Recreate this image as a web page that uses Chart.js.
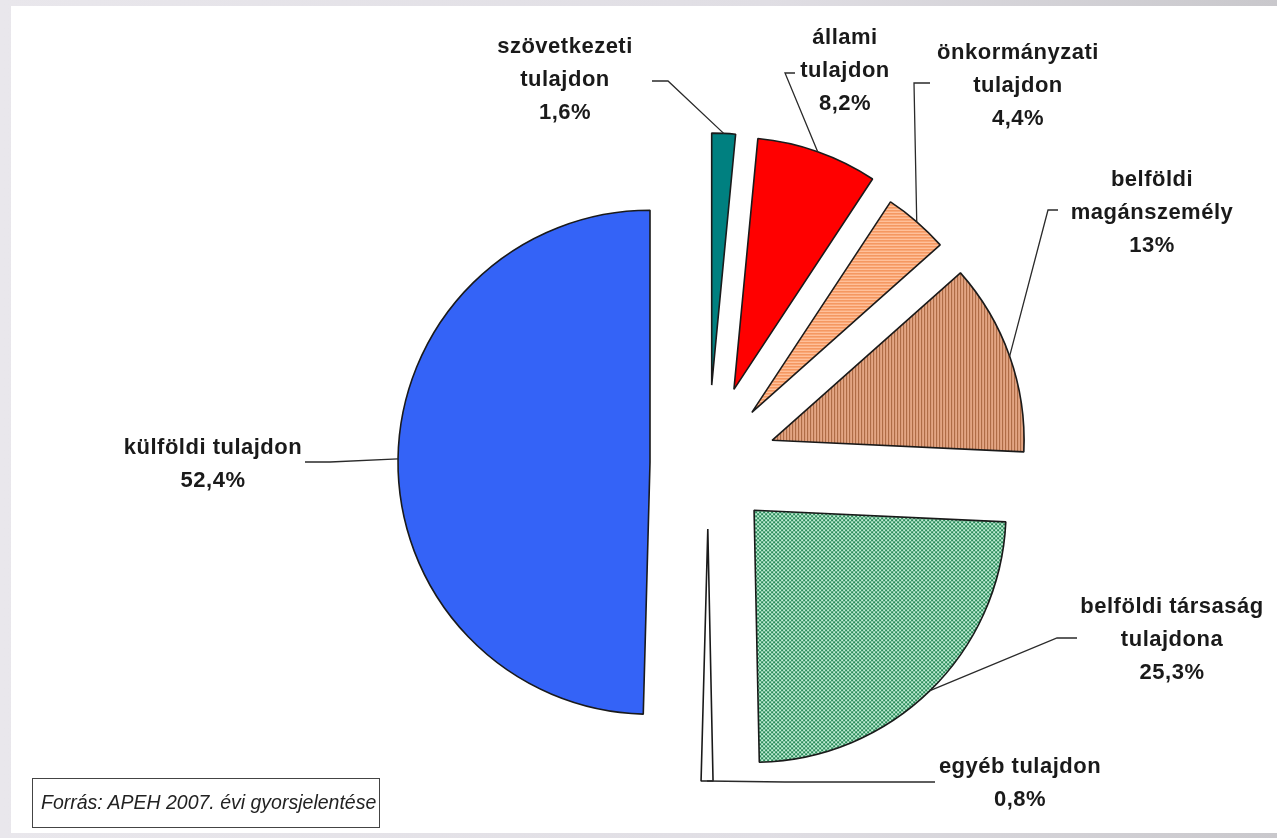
<!DOCTYPE html>
<html>
<head>
<meta charset="utf-8">
<script src="https://cdn.jsdelivr.net/npm/chart.js@4/dist/chart.umd.min.js"></script>
<style>
  html, body { margin: 0; padding: 0; }
  body {
    width: 1277px; height: 838px; overflow: hidden; position: relative;
    background: linear-gradient(90deg, #e9e7ec, #e0dee4 60%, #c9c8cc);
  }
  #lap { position: absolute; left: 11px; top: 6px; width: 1266px; height: 827px; background: #fff; }
  #forras {
    position: absolute; left: 21px; top: 772px; width: 348px; height: 50px;
    box-sizing: border-box; border: 1.5px solid #444; padding-left: 8px;
    font: italic 19.5px "Liberation Sans", Arial, sans-serif; color: #222; line-height: 47px;
  }
</style>
</head>
<body>
<div id="lap">
  <canvas id="kor" width="1266" height="827"></canvas>
  <div id="forras">Forrás: APEH 2007. évi gyorsjelentése</div>
</div>
<script>
// tulajdonosi megoszlás (%)
const kategoriak = [
  ['szövetkezeti', 'tulajdon'],
  ['állami', 'tulajdon'],
  ['önkormányzati', 'tulajdon'],
  ['belföldi', 'magánszemély'],
  ['belföldi társaság', 'tulajdona'],
  ['egyéb tulajdon'],
  ['külföldi tulajdon']
];
const aranyok = [1.6, 8.2, 4.4, 13, 25.3, 0.8, 52.4];

// kiemelés (px) es a feliratok helye a kör középpontjához képest
const kiemeles = [78, 78, 67, 68, 66, 66, 58];
const feliratok = [
  { x: -143, y: -416 }, { x: 137, y: -425 }, { x: 310, y: -410 },
  { x: 444, y: -283 }, { x: 464, y: 144 }, { x: 312, y: 304 }, { x: -495, y: -15 }
];
// vezetővonal vízszintes szakasza: [x1, x2, y]
const vezetok = [
  [-56, -40, -382], [87, 77, -390], [222, 206, -380],
  [350, 340, -253], [369, 349, 175], [227, 77, 319], [-403, -378, -1]
];

function minta(w, h, rajzol) {
  const c = document.createElement('canvas');
  c.width = w; c.height = h;
  const g = c.getContext('2d');
  rajzol(g);
  return g.createPattern(c, 'repeat');
}
const narancsCsik = minta(3, 3, g => {
  g.fillStyle = '#ffc09a'; g.fillRect(0, 0, 3, 3);
  g.fillStyle = '#f08040'; g.fillRect(0, 0, 3, 1);
});
const barnaCsik = minta(3, 3, g => {
  g.fillStyle = '#e3a583'; g.fillRect(0, 0, 3, 3);
  g.fillStyle = '#a8643e'; g.fillRect(0, 0, 1, 3);
});
const zoldKocka = minta(4, 4, g => {
  g.fillStyle = '#c2eed6'; g.fillRect(0, 0, 4, 4);
  g.fillStyle = '#288a58'; g.fillRect(0, 0, 2, 2); g.fillRect(2, 2, 2, 2);
});
const szinek = ['#008080', '#ff0000', narancsCsik, barnaCsik, zoldKocka, '#ffffff', '#3463f7'];

const szazalek = v => String(v).replace('.', ',') + '%';

const robbantott = {
  id: 'robbantott',
  beforeDatasetDraw(chart, args) {
    const ctx = chart.ctx;
    args.meta.data.forEach((arc, i) => {
      const fel = (arc.startAngle + arc.endAngle) / 2;
      ctx.save();
      ctx.translate(Math.cos(fel) * kiemeles[i], Math.sin(fel) * kiemeles[i]);
      arc.draw(ctx);
      ctx.restore();
    });
    return false;
  },
  afterDatasetsDraw(chart) {
    const ctx = chart.ctx;
    const meta = chart.getDatasetMeta(0);
    ctx.save();
    ctx.strokeStyle = '#2a2a2a';
    ctx.lineWidth = 1.3;
    ctx.fillStyle = '#1a1a1a';
    ctx.font = 'bold 22px "Liberation Sans", Arial, sans-serif';
    ctx.letterSpacing = '0.5px';
    ctx.textAlign = 'center';
    ctx.textBaseline = 'middle';
    meta.data.forEach((arc, i) => {
      const cx = arc.x, cy = arc.y;
      const fel = (arc.startAngle + arc.endAngle) / 2;
      const r = arc.outerRadius + kiemeles[i];
      const [x1, x2, ly] = vezetok[i];
      ctx.beginPath();
      ctx.moveTo(cx + x1, cy + ly);
      ctx.lineTo(cx + x2, cy + ly);
      ctx.lineTo(cx + Math.cos(fel) * r, cy + Math.sin(fel) * r);
      ctx.stroke();
      const sorok = [...kategoriak[i], szazalek(aranyok[i])];
      sorok.forEach((s, k) => ctx.fillText(s, cx + feliratok[i].x, cy + feliratok[i].y + k * 33));
    });
    ctx.restore();
  }
};

new Chart(document.getElementById('kor'), {
  type: 'pie',
  data: {
    labels: kategoriak,
    datasets: [{
      data: aranyok,
      backgroundColor: szinek,
      borderColor: '#1a1a1a',
      borderWidth: 1.6
    }]
  },
  options: {
    responsive: false,
    devicePixelRatio: 1,
    animation: false,
    events: [],
    radius: 252,
    layout: { padding: { left: 128, top: 87, right: 0, bottom: 0 } },
    plugins: { legend: { display: false }, tooltip: { enabled: false } }
  },
  plugins: [robbantott]
});
</script>
</body>
</html>
